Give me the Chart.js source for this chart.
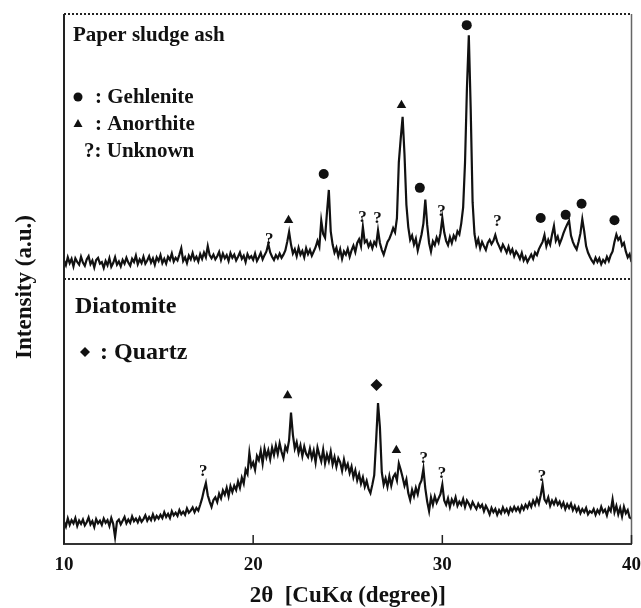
<!DOCTYPE html>
<html>
<head>
<meta charset="utf-8">
<script src="https://cdn.jsdelivr.net/npm/chart.js@4.4.1/dist/chart.umd.min.js"></script>
<style>
  html, body { margin: 0; padding: 0; background: #fff; }
  #wrap { width: 641px; height: 608px; position: relative; }
</style>
</head>
<body>
<div id="wrap"><canvas id="c" width="641" height="608"></canvas></div>
<script>
// Scan parameters (2θ, degrees)
const scanStart = 10;
const scanStep = 0.1;

// Paper sludge ash pattern (upper trace, a.u.)
const psaIntensity = [
  53.5, 52.6, 54.1, 53.0, 53.8, 52.4, 53.9, 53.2, 52.7, 54.2,
  53.1, 52.5, 53.7, 54.3, 52.8, 53.5, 52.2, 53.6, 54.0, 52.9,
  53.2, 52.1, 53.4, 52.6, 53.9, 52.3, 53.0, 54.1, 52.7, 53.3,
  52.4, 53.6, 52.9, 54.0, 53.1, 52.5, 53.8, 53.2, 54.4, 52.8,
  53.7, 53.0, 54.2, 52.9, 53.5, 54.3, 53.1, 53.9, 52.7, 54.1,
  53.4, 54.5, 53.0, 53.8, 52.9, 54.2, 53.6, 54.8, 53.3, 54.0,
  53.5, 54.6, 55.8, 53.4, 54.1, 53.0, 54.4, 53.7, 54.9, 53.6,
  54.2, 53.3, 54.7, 53.8, 55.0, 54.1, 56.2, 54.5, 53.9, 54.6,
  53.7, 54.3, 55.1, 53.6, 54.8, 53.9, 54.5, 53.4, 54.9, 54.0,
  54.6, 53.5, 54.2, 55.0, 53.8, 54.4, 53.2, 54.7, 53.9, 54.3,
  53.6, 54.8, 53.4, 54.1, 54.9, 53.7, 54.5, 55.2, 56.6, 55.0,
  54.2, 53.6, 54.5, 53.9, 54.8, 54.0, 54.6, 55.4, 57.0, 58.9,
  56.5, 54.8, 55.6, 54.3, 55.9, 54.6, 55.3, 54.1, 55.8, 54.7,
  55.5, 54.4, 55.2, 56.0, 57.2, 56.1, 61.0, 58.5, 57.8, 62.5,
  66.8, 59.0, 56.5, 55.0, 55.9, 54.3, 55.6, 53.8, 55.2, 54.6,
  55.7, 54.2, 55.4, 56.3, 55.1, 56.8, 57.5, 56.2, 59.8, 56.9,
  57.3, 56.1, 56.9, 55.8, 57.0, 56.4, 59.2, 56.8, 55.5, 54.6,
  55.8, 57.0, 57.6, 58.5, 59.6, 58.8, 61.5, 72.0, 76.5, 80.6,
  73.5, 64.0, 59.8, 57.4, 58.2, 56.5, 57.6, 55.4, 56.9, 58.4,
  60.5, 65.0, 60.2, 56.8, 55.2, 57.1, 56.4, 57.8, 56.9, 58.6,
  61.5, 58.8, 57.2, 56.4, 57.9, 56.8, 58.2, 57.5, 59.0, 58.4,
  60.5, 63.5, 72.0, 86.0, 96.0, 82.0, 64.5, 58.5, 56.4, 57.5,
  55.8, 57.0, 56.2, 55.5, 56.8, 57.4, 56.6, 57.2, 58.3, 57.0,
  56.2, 55.4, 56.5, 55.8, 55.0, 56.1, 54.9, 55.6, 54.3, 55.2,
  54.6, 53.8, 54.9, 53.5, 54.2, 53.2, 53.9, 54.6, 53.8, 55.0,
  54.5, 55.6, 56.3, 57.0, 58.3, 56.2, 57.4, 56.5, 58.4, 60.0,
  57.2, 58.0, 56.6, 57.5, 58.6, 59.5, 60.3, 61.0, 58.2, 57.0,
  56.2, 55.6, 57.0, 58.6, 61.3, 59.0, 56.2, 55.0, 54.2, 53.5,
  53.0, 54.0, 53.2, 53.9, 52.8, 53.6, 53.1, 54.2, 53.4, 54.5,
  55.2, 57.0, 58.4, 57.4, 57.9, 56.3, 56.8, 55.2, 54.1, 54.7,
  53.2
];

// Diatomite pattern (lower trace, a.u.)
const diatomiteIntensity = [
  4.2, 3.3, 4.8, 3.6, 4.5, 3.9, 4.9, 3.4, 4.4, 3.8,
  4.6, 3.5, 4.1, 5.0, 3.7, 4.3, 3.2, 4.7, 3.9, 4.4,
  3.6, 4.8, 4.0, 4.5, 3.4, 4.9, 3.8, 1.3, 4.2, 4.6,
  3.7, 4.4, 5.1, 3.9, 4.6, 4.0, 5.2, 4.3, 4.8, 4.1,
  5.0, 4.2, 4.7, 5.4, 4.4, 5.1, 4.5, 5.6, 4.6, 5.3,
  4.8, 5.5, 4.9, 6.0, 5.1, 5.7, 4.9, 6.2, 5.4, 5.9,
  5.3, 6.4, 5.6, 6.1, 5.5, 6.7, 5.9, 6.3, 6.9, 6.0,
  6.8, 6.3, 7.4, 8.6, 10.2, 11.5, 9.2, 8.0, 7.0, 8.3,
  8.8, 7.9, 9.5, 8.6, 10.1, 9.3, 10.6, 9.0, 10.9, 9.8,
  11.0, 10.2, 11.8, 10.6, 12.5, 11.4, 14.0, 13.2, 17.2, 14.6,
  15.4, 14.0, 16.6, 15.8, 17.6, 15.2, 18.0, 16.4, 17.7, 16.0,
  18.2, 16.8, 18.6, 17.0, 19.0, 17.4, 16.2, 18.4, 17.6, 19.6,
  24.8, 20.6, 18.0, 19.2, 17.2, 18.6, 16.6, 18.4, 17.0, 16.4,
  18.0, 16.2, 17.6, 15.4, 18.2, 16.8, 15.6, 17.8, 15.2, 16.9,
  15.6, 17.4, 15.0, 16.4, 14.6, 16.2, 15.4, 13.8, 15.9, 14.2,
  15.1, 13.4, 14.6, 12.6, 13.9, 12.0, 13.2, 11.4, 12.6, 10.8,
  11.9, 10.4, 9.6, 11.2, 13.0, 19.5, 26.6, 22.0, 13.5, 11.2,
  12.4, 10.8, 12.8, 11.0, 12.6, 13.2, 12.0, 15.2, 14.0, 12.6,
  11.0, 12.2, 9.6, 8.3, 10.2, 9.0, 10.6, 9.4, 11.2, 12.0,
  14.2, 10.5, 8.0, 6.2, 8.8, 7.4, 9.0, 7.8, 8.6, 9.4,
  11.2, 8.2, 7.4, 8.6, 7.0, 8.4, 7.6, 8.8, 7.2, 8.0,
  7.4, 8.5, 7.0, 8.2, 7.6, 6.8, 7.9, 7.2, 6.6, 7.6,
  6.9, 7.4, 6.2, 7.2, 6.5, 5.6, 6.8, 6.0, 6.6, 5.5,
  6.4, 5.8, 6.9, 6.0, 6.6, 5.7, 6.8, 6.2, 7.0, 6.3,
  6.9, 6.1, 7.2, 6.5, 7.4, 6.8, 7.8, 7.0, 8.2, 7.4,
  8.6, 7.6, 9.2, 11.2, 8.4, 7.8, 8.8, 7.2, 8.2, 7.5,
  8.4, 7.4, 8.0, 7.0, 7.8, 6.6, 7.5, 6.8, 7.6, 6.4,
  7.2, 6.2, 6.9, 5.8, 6.6, 6.0, 6.8, 5.6, 6.2, 5.9,
  6.6, 5.5, 6.4, 5.8, 7.0, 6.0, 6.5, 5.4, 6.8, 6.2,
  8.4, 6.0, 7.2, 5.6, 6.8, 5.2, 7.0, 5.8, 6.4, 5.0,
  4.8
];

// Phase markers (2θ position, marker height in a.u.)
const gehleniteX = [23.73, 28.81, 31.29, 35.2, 36.52, 37.36, 39.1];
const gehleniteY = [69.8, 67.2, 97.9, 61.5, 62.1, 64.2, 61.1];
const anorthiteX = [21.87, 27.84, 21.82, 27.57];
const anorthiteY = [61.1, 82.8, 28.0, 17.7];
const quartzX = [26.52];
const quartzY = [30.0];
const unknownX = [20.85, 25.78, 26.57, 29.95, 32.91, 17.36, 29.02, 29.98, 35.27];
const unknownY = [57.5, 61.6, 61.4, 62.7, 60.8, 13.6, 16.2, 13.3, 12.7];

// Axis
const xTicks = [10, 20, 30, 40];
const panelSplit = 50;

const twoTheta = psaIntensity.map((_, i) => +(scanStart + i * scanStep).toFixed(1));
const pts = (xs, ys) => xs.map((x, i) => ({ x: x, y: ys[i] }));

const SERIF = '"Liberation Serif", "Times New Roman", serif';
const INK = '#111';

const decor = {
  id: 'decor',
  afterDatasetsDraw(chart) {
    const ctx = chart.ctx, a = chart.chartArea;
    const xs = chart.scales.x, ys = chart.scales.y;
    ctx.save();
    // frame: left solid, right grey, top dotted
    ctx.strokeStyle = '#222'; ctx.lineWidth = 2;
    ctx.beginPath(); ctx.moveTo(a.left, a.top); ctx.lineTo(a.left, a.bottom); ctx.stroke();
    ctx.strokeStyle = '#666'; ctx.lineWidth = 1.5;
    ctx.beginPath(); ctx.moveTo(a.right, a.top); ctx.lineTo(a.right, a.bottom); ctx.stroke();
    ctx.strokeStyle = '#222'; ctx.lineWidth = 2; ctx.setLineDash([2, 2]);
    ctx.beginPath(); ctx.moveTo(a.left, a.top); ctx.lineTo(a.right, a.top); ctx.stroke();
    const sy = ys.getPixelForValue(panelSplit);
    ctx.beginPath(); ctx.moveTo(a.left, sy); ctx.lineTo(a.right, sy); ctx.stroke();
    ctx.setLineDash([]);
    // inner ticks
    ctx.strokeStyle = '#222'; ctx.lineWidth = 1.5;
    xTicks.forEach(t => {
      const px = xs.getPixelForValue(t);
      ctx.beginPath(); ctx.moveTo(px, a.bottom); ctx.lineTo(px, a.bottom - 9); ctx.stroke();
    });
    // unknown peak labels
    ctx.fillStyle = INK;
    ctx.font = 'bold 17px ' + SERIF;
    ctx.textAlign = 'center'; ctx.textBaseline = 'middle';
    unknownX.forEach((x, i) => {
      ctx.fillText('?', xs.getPixelForValue(x), ys.getPixelForValue(unknownY[i]));
    });
    // panel captions and keys
    ctx.textAlign = 'left';
    ctx.font = 'bold 21px ' + SERIF;
    ctx.fillText('Paper sludge ash', 73, 36);
    ctx.fillText(': Gehlenite', 95, 98);
    ctx.fillText(': Anorthite', 95, 125);
    ctx.fillText('?: Unknown', 84, 152);
    ctx.beginPath(); ctx.arc(78, 97, 4.5, 0, Math.PI * 2); ctx.fill();
    ctx.beginPath(); ctx.moveTo(78, 119); ctx.lineTo(82.5, 127); ctx.lineTo(73.5, 127); ctx.closePath(); ctx.fill();
    ctx.font = 'bold 24px ' + SERIF;
    ctx.fillText('Diatomite', 75, 307);
    ctx.fillText(': Quartz', 100, 353);
    ctx.beginPath(); ctx.moveTo(85, 347); ctx.lineTo(90, 352); ctx.lineTo(85, 357); ctx.lineTo(80, 352); ctx.closePath(); ctx.fill();
    // y title
    ctx.translate(25, 287); ctx.rotate(-Math.PI / 2);
    ctx.textAlign = 'center';
    ctx.font = 'bold 23px ' + SERIF;
    ctx.fillText('Intensity (a.u.)', 0, 0);
    ctx.restore();
  }
};

new Chart(document.getElementById('c'), {
  type: 'line',
  data: {
    datasets: [
      { label: 'Paper sludge ash', data: pts(twoTheta, psaIntensity), borderColor: INK, borderWidth: 2.2, pointRadius: 0, tension: 0, fill: false },
      { label: 'Diatomite', data: pts(twoTheta, diatomiteIntensity), borderColor: INK, borderWidth: 2.2, pointRadius: 0, tension: 0, fill: false },
      { type: 'scatter', label: 'Gehlenite', data: pts(gehleniteX, gehleniteY), pointStyle: 'circle', pointRadius: 5, backgroundColor: INK, borderColor: INK, borderWidth: 0 },
      { type: 'scatter', label: 'Anorthite', data: pts(anorthiteX, anorthiteY), pointStyle: 'triangle', pointRadius: 5.5, backgroundColor: INK, borderColor: INK, borderWidth: 0 },
      { type: 'scatter', label: 'Quartz', data: pts(quartzX, quartzY), pointStyle: 'rectRot', pointRadius: 6, backgroundColor: INK, borderColor: INK, borderWidth: 0 }
    ]
  },
  options: {
    responsive: false,
    animation: false,
    events: [],
    layout: { padding: { left: 64, top: 14, right: 9, bottom: 0 } },
    plugins: { legend: { display: false }, tooltip: { enabled: false } },
    scales: {
      x: {
        type: 'linear', min: 10, max: 40,
        afterBuildTicks: s => { s.ticks = xTicks.map(v => ({ value: v })); },
        ticks: { font: { family: SERIF, weight: 'bold', size: 19, lineHeight: 1 }, color: INK, padding: 0, maxRotation: 0, autoSkip: false },
        grid: { display: false, drawTicks: true, tickLength: 11.5 },
        border: { display: true, color: '#333', width: 2 },
        title: { display: true, text: '2θ  [CuKα (degree)]', font: { family: SERIF, weight: 'bold', size: 23, lineHeight: 1 }, color: INK, padding: { top: 10.5, bottom: 0 } }
      },
      y: { type: 'linear', min: 0, max: 100, display: false }
    }
  },
  plugins: [decor]
});
</script>
</body>
</html>
